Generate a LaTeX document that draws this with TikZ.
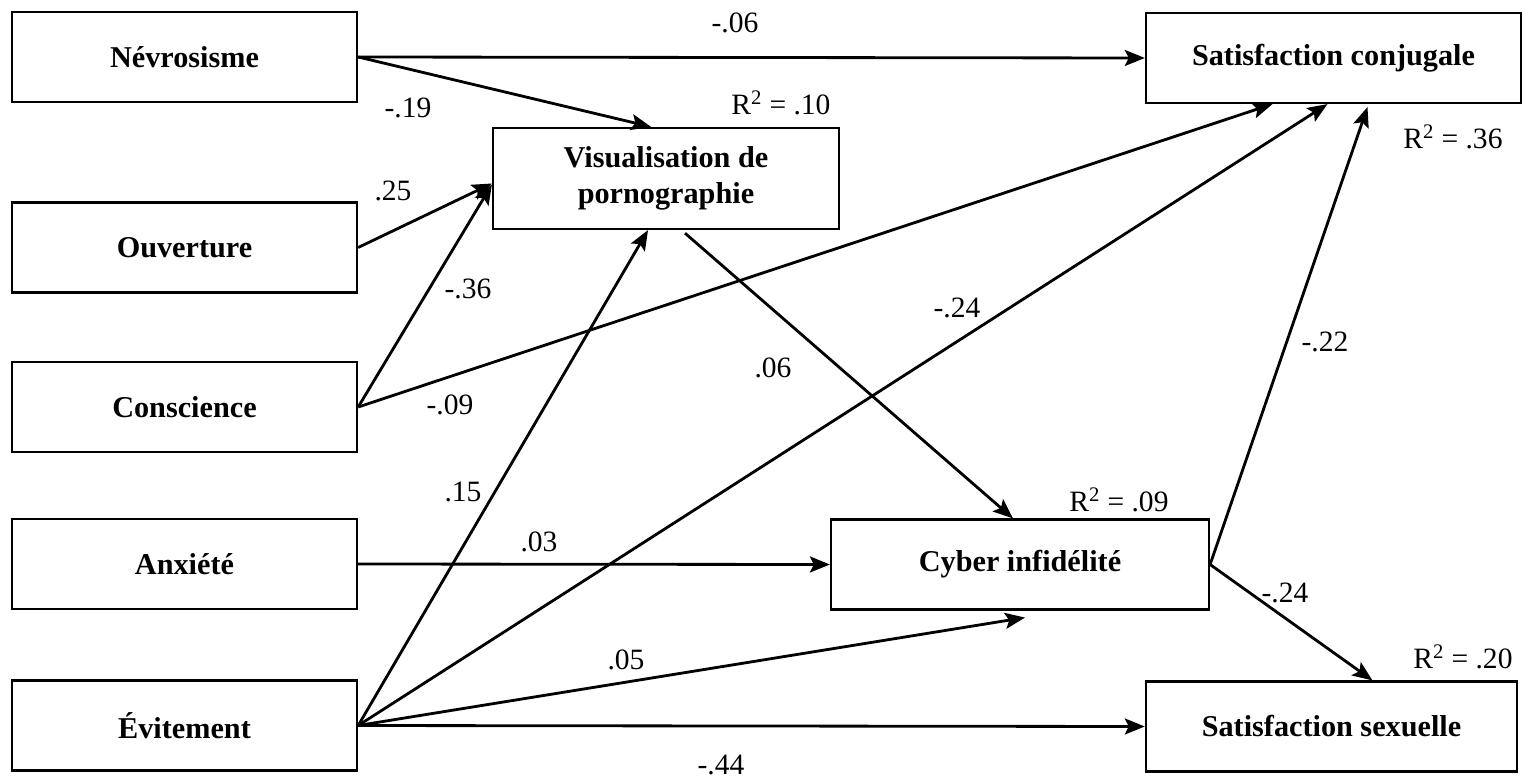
\documentclass[tikz,border=0pt]{standalone}
\usepackage{fontspec}
\setmainfont{Liberation Serif}
\usetikzlibrary{arrows.meta, positioning, calc}
\tikzset{
        >={Stealth[length=5mm, width=4mm, inset=1mm]}, % filled arrow heads
        var/.style={draw, line width=1.5pt, align=center, inner sep=0pt,
          font=\fontsize{21.5}{26}\selectfont\bfseries,
          minimum width=8.63cm, minimum height=2.25cm}, % boxes of the model
        link/.style={draw, ->, line width=2pt}, % paths between boxes
        coef/.style={font=\fontsize{21}{25}\selectfont, inner sep=1pt}, % path weights
    }

\begin{document}
\begin{tikzpicture}[x=0.025cm, y=-0.025cm]
    \useasboundingbox (0,0) rectangle (1526,782);
    % predictors
    \node[var] (nev) at (184.5,57) {Névrosisme};
    \node[var] (ouv) at (184.5,247.5) {Ouverture};
    \node[var] (cons) at (184.5,407) {Conscience};
    \node[var] (anx) at (184.5,564) {Anxiété};
    \node[var] (evit) at (184.5,725.5) {Évitement};
    % mediators and outcomes
    \node[var, minimum width=8.65cm, minimum height=2.53cm] (vis) at (666,178.5) {Visualisation de\\pornographie};
    \node[var, minimum width=9.45cm] (cyber) at (1020,564.5) {Cyber infidélité};
    \node[var, minimum width=9.38cm] (satc) at (1333.5,58) {Satisfaction conjugale};
    \node[var, minimum width=9.28cm] (sats) at (1331.5,726.5) {Satisfaction sexuelle};
    \path[every edge/.style={link}]
      (nev.east) edge (satc.west)
      (nev.east) edge ($(vis.north)+(-15,0)$)
      (ouv.east) edge ($(vis.west)+(0,5)$)
      (cons.east) edge ($(vis.west)+(0,6)$)
      (cons.east) edge ($(satc.south)+(-61,0)$)
      (anx.east) edge (cyber.west)
      (evit.east) edge ($(vis.south)+(-18,0)$)
      (evit.east) edge ($(satc.south)+(-6,0)$)
      (evit.east) edge ($(cyber.south)+(5,7)$)
      (evit.east) edge (sats.west)
      ($(vis.south)+(19,3)$) edge ($(cyber.north)+(-7,0)$)
      (cyber.east) edge ($(satc.south)+(34,3)$)
      (cyber.east) edge ($(sats.north)+(41,0)$);
    % weights
    \node[coef] (w-nev-satc) at (735,23) {-.06};
    \node[coef] (w-nev-vis) at (408,108) {-.19};
    \node[coef] (w-ouv-vis) at (393,191) {.25};
    \node[coef] (w-cons-vis) at (468,289) {-.36};
    \node[coef] (w-cons-satc) at (450,405) {-.09};
    \node[coef] (w-evit-vis) at (463,492) {.15};
    \node[coef] (w-anx-cyber) at (539,542) {.03};
    \node[coef] (w-vis-cyber) at (773,368) {.06};
    \node[coef] (w-evit-satc) at (957,308) {-.24};
    \node[coef] (w-cyber-satc) at (1325,342) {-.22};
    \node[coef] (w-cyber-sats) at (1285,593) {-.24};
    \node[coef] (w-evit-cyber) at (626,660) {.05};
    \node[coef] (w-evit-sats) at (721,765) {-.44};
    % explained variance
    \node[coef] (r-vis) at (781,103) {R\textsuperscript{2} = .10};
    \node[coef] (r-satc) at (1453,137) {R\textsuperscript{2} = .36};
    \node[coef] (r-cyber) at (1119,500) {R\textsuperscript{2} = .09};
    \node[coef] (r-sats) at (1463,657) {R\textsuperscript{2} = .20};
\end{tikzpicture}
\end{document}
